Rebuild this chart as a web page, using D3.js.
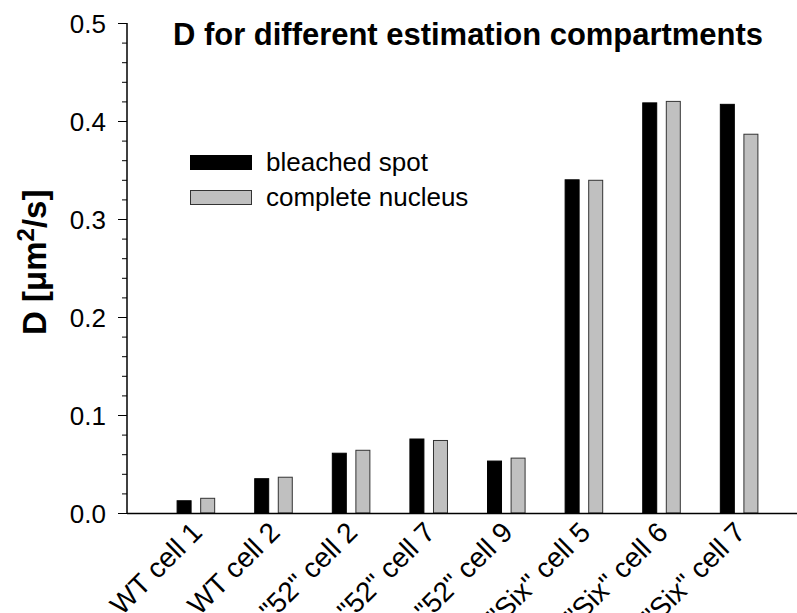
<!DOCTYPE html>
<meta charset="utf-8">
<style>
  body { margin: 0; background: #fff; }
  text { font-family: Arial, "Liberation Sans", sans-serif; }
</style>
<body></body>
<script src="https://d3js.org/d3.v7.min.js"></script>
<script>

// data
var cells = ["WT cell 1", "WT cell 2", "\"52\" cell 2", "\"52\" cell 7", "\"52\" cell 9", "\"Six\" cell 5", "\"Six\" cell 6", "\"Six\" cell 7"];
var bleached = [0.0125, 0.035, 0.061, 0.0755, 0.053, 0.340, 0.4185, 0.417];
var nucleus  = [0.015, 0.0365, 0.064, 0.074, 0.056, 0.3395, 0.420, 0.3865];
var seriesNames = ["bleached spot", "complete nucleus"];
var seriesFill = ["#000000", "#c0c0c0"];
var yTicks = [0, 0.1, 0.2, 0.3, 0.4, 0.5];

var width = 797, height = 613;

var svg = d3.select("body").append("svg")
    .attr("width", width)
    .attr("height", height);

// scales
var y = d3.scaleLinear().domain([0, 0.5]).range([513, 23]);

var x = d3.scaleBand()
    .domain(cells)
    .range([157.2, 777.8])
    .paddingInner(0.503)
    .paddingOuter(0.25);

var xs = d3.scaleBand()
    .domain([0, 1])
    .range([0, x.bandwidth()])
    .paddingInner(0.364);

var rows = cells.map(function(c, i) { return {cell: c, vals: [bleached[i], nucleus[i]]}; });

// bars
var groups = svg.append("g").selectAll("g")
    .data(rows)
  .enter().append("g")
    .attr("transform", function(d) { return "translate(" + x(d.cell) + ",0)"; });

groups.selectAll("rect")
    .data(function(d) { return d.vals.map(function(v, k) { return {k: k, v: v}; }); })
  .enter().append("rect")
    .attr("x", function(d) { return xs(d.k) + 0.5; })
    .attr("y", function(d) { return y(d.v); })
    .attr("width", xs.bandwidth() - 1)
    .attr("height", function(d) { return y(0) - y(d.v); })
    .attr("fill", function(d) { return seriesFill[d.k]; })
    .attr("stroke", function(d) { return d.k ? "#333" : "#000"; })
    .attr("stroke-width", 1);

// y axis, minor ticks every 0.02
var yAxis = svg.append("g")
    .attr("transform", "translate(127,0)")
    .call(d3.axisLeft(y).tickValues(d3.range(0, 0.5001, 0.02)).tickSize(5).tickFormat(""));
yAxis.select(".domain").attr("d", "M0," + y(0.5) + "V" + y(0)).attr("stroke", "#000").attr("stroke-width", 1.5);

// major ticks with labels
var yMajor = svg.append("g")
    .attr("transform", "translate(127,0)")
    .call(d3.axisLeft(y).tickValues(yTicks).tickSize(9).tickPadding(12).tickFormat(d3.format(".1f")));
yMajor.select(".domain").remove();
yMajor.selectAll("text").attr("font-size", 26).attr("fill", "#000").attr("dy", "0.36em");
svg.selectAll(".tick line").attr("stroke", "#000");

// x axis; rotated labels run off the bottom edge as in the original
var xAxis = svg.append("g")
    .attr("transform", "translate(0," + y(0) + ")")
    .call(d3.axisBottom(x).tickSize(0).tickPadding(0));
xAxis.select(".domain").attr("d", "M127,0.5H797").attr("stroke", "#000").attr("stroke-width", 1.5);
xAxis.selectAll("text")
    .attr("font-size", 28)
    .attr("fill", "#000")
    .attr("text-anchor", "end")
    .attr("dy", null)
    .attr("y", 0)
    .attr("transform", "translate(8,21) rotate(-45)");

// y axis label
svg.append("text")
    .attr("transform", "translate(46,335) rotate(-90)")
    .attr("font-size", 33)
    .attr("font-weight", "bold")
    .html('D [\u03bcm<tspan dy="-12" font-size="24">2</tspan><tspan dy="12">/s]</tspan>');

// title
svg.append("text")
    .attr("x", 173)
    .attr("y", 45)
    .attr("font-size", 31)
    .attr("font-weight", "bold")
    .attr("textLength", 590)
    .attr("lengthAdjust", "spacingAndGlyphs")
    .text("D for different estimation compartments");

// legend
var legend = svg.append("g").selectAll("g")
    .data(seriesNames)
  .enter().append("g")
    .attr("transform", function(d, i) { return "translate(190," + (155 + i * 35) + ")"; });

legend.append("rect")
    .attr("x", 0.5).attr("y", 0.5)
    .attr("width", 61).attr("height", 14)
    .attr("fill", function(d, i) { return seriesFill[i]; })
    .attr("stroke", function(d, i) { return i ? "#333" : "#000"; });

legend.append("text")
    .attr("x", 76)
    .attr("y", 16)
    .attr("font-size", 26)
    .text(function(d) { return d; });

</script>
